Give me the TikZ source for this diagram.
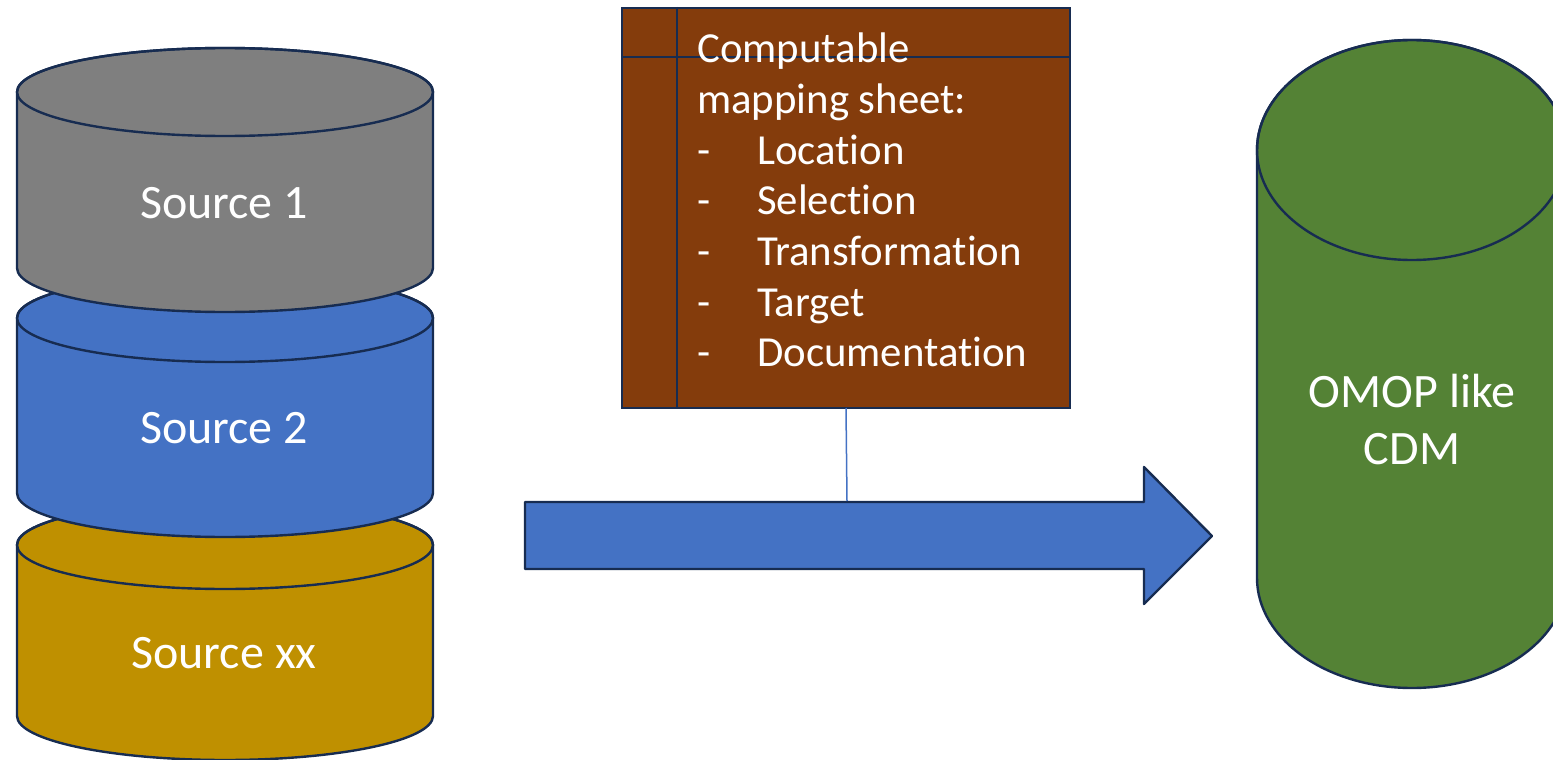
\documentclass[tikz,border=0pt]{standalone}
\usepackage{fontspec}
\setmainfont[Ligatures={NoCommon,NoRare}]{Carlito}
\definecolor{edge}{HTML}{172C51}
\definecolor{greyfill}{HTML}{7F7F7F}
\definecolor{bluefill}{HTML}{4472C4}
\definecolor{goldfill}{HTML}{BF9000}
\definecolor{greenfill}{HTML}{548235}
\definecolor{brownfill}{HTML}{843C0C}
\tikzset{
  dbshape/.style={draw=edge, line width=2.4pt, line join=round},
  biglabel/.style={text=white, font=\fontsize{48}{57}\selectfont, inner sep=0pt, anchor=base},
  sheettext/.style={text=white, font=\fontsize{42.8}{50}\selectfont, inner sep=0pt, anchor=base west},
}
% cylinder: #1 fill, #2 centre x, #3 top-ellipse centre y, #4 bottom-ellipse centre y, #5 rx, #6 ry
\newcommand{\dbcyl}[6]{%
  \path[dbshape, fill=#1] (#2-#5,#3) -- (#2-#5,#4)
    arc[start angle=180, end angle=0, x radius=#5, y radius=#6]
    -- (#2+#5,#3)
    arc[start angle=0, end angle=-180, x radius=#5, y radius=#6] -- cycle;
  \draw[dbshape] (#2,#3) ellipse[x radius=#5, y radius=#6];
}
\begin{document}
\begin{tikzpicture}[x=1pt, y=-1pt]
\useasboundingbox (0,0) rectangle (1553,760);

% stacked source databases, lowest first so upper ones overlap
\dbcyl{goldfill}{225}{545}{716}{208}{44}
\dbcyl{bluefill}{225}{318}{493}{208}{44}
\dbcyl{greyfill}{225}{92}{268}{208}{44}
\node[biglabel] (src1) at (224,218) {Source 1};
\node[biglabel] (src2) at (224,443) {Source 2};
\node[biglabel] (srcxx) at (224,668) {Source xx};

% target database
\begin{scope}
\clip (0,0) rectangle (1553,760);
\dbcyl{greenfill}{1412}{150}{578}{155}{110}
\end{scope}
\node[biglabel] (omop) at (1412,407) {OMOP like};
\node[biglabel] (cdm) at (1412,464) {CDM};

% mapping sheet
\node[draw=edge, line width=2.4pt, fill=brownfill, anchor=north west,
      minimum width=448pt, minimum height=400pt, inner sep=0pt] (sheet) at (621,7) {};
\draw[edge, line width=2.4pt] (677,7) -- (677,407);
\draw[edge, line width=2.4pt] (621,57) -- (1069,57);
\node[sheettext] (l0) at (697,63) {Computable};
\node[sheettext] (l1) at (697,113) {mapping sheet:};
\node[sheettext] (l2) at (697,164) {\makebox[60pt][l]{-}Location};
\node[sheettext] (l3) at (697,214) {\makebox[60pt][l]{-}Selection};
\node[sheettext] (l4) at (697,265) {\makebox[60pt][l]{-}Transformation};
\node[sheettext] (l5) at (697,316) {\makebox[60pt][l]{-}Target};
\node[sheettext] (l6) at (697,366) {\makebox[60pt][l]{-}Documentation};

% flow arrow
\path[dbshape, fill=bluefill] (525,502) -- (1144,502) -- (1144,467) -- (1212,536)
  -- (1144,604) -- (1144,569) -- (525,569) -- cycle;

% link from sheet to arrow
\coordinate (linktop) at (846,408);
\coordinate (linkbot) at (847,501);
\draw[bluefill, line width=1.5pt] (linktop) -- (linkbot);
\end{tikzpicture}
\end{document}
